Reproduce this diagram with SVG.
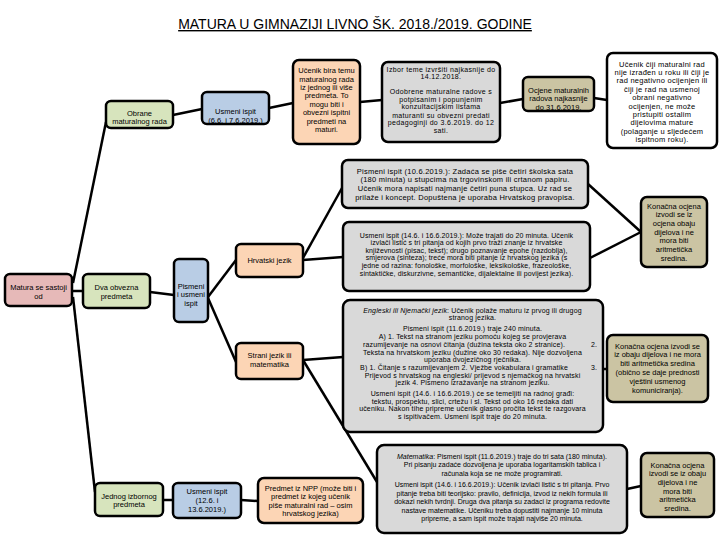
<svg xmlns="http://www.w3.org/2000/svg" width="720" height="540" viewBox="0 0 720 540">
<style>
.b{stroke:#000;stroke-width:2.5}
.pk{fill:#E6B9B8}.gr{fill:#D7E4BD}.bl{fill:#B9CDE5}.or{fill:#FCD5B5}.gy{fill:#D9D9D9}.tn{fill:#CBC4A3}.wh{fill:#FFFFFF}
text{font-family:"Liberation Sans",Arial,sans-serif;fill:#000;text-anchor:middle}
.s{font-size:7.5px}.m{font-size:7px}
.c line{stroke:#000;stroke-width:2.5}
</style>
<rect width="720" height="540" fill="#fff"/>
<text x="355" y="29" style="font-size:14px;text-decoration:underline">MATURA U GIMNAZIJI LIVNO ŠK. 2018./2019. GODINE</text>
<g id="connectors" class="c">
<line x1="72" y1="291" x2="83" y2="291"/>
<line x1="73" y1="283" x2="106" y2="122"/>
<line x1="73" y1="297" x2="95" y2="492"/>
<line x1="150" y1="292" x2="174" y2="295"/>
<line x1="208" y1="297" x2="236" y2="260"/>
<line x1="208" y1="298" x2="236" y2="362"/>
<line x1="303" y1="260" x2="343" y2="257"/>
<line x1="303" y1="258" x2="342" y2="188"/>
<line x1="588" y1="184" x2="641" y2="232"/>
<line x1="590" y1="258" x2="641" y2="232"/>
<line x1="303" y1="360" x2="343" y2="357"/>
<line x1="303" y1="360" x2="377" y2="482"/>
<line x1="602" y1="369" x2="607" y2="369"/>
<line x1="627" y1="489" x2="641" y2="486"/>
<line x1="163" y1="500" x2="173" y2="500"/>
<line x1="241" y1="500" x2="258" y2="501"/>
<line x1="173" y1="115" x2="202" y2="109"/>
<line x1="269" y1="108" x2="293" y2="103"/>
<line x1="360" y1="102" x2="382" y2="100"/>
<line x1="500" y1="103" x2="523" y2="99"/>
<line x1="594" y1="98" x2="607" y2="100"/>
</g>
<g id="matura"><rect class="b pk" x="5" y="274" width="67" height="32" rx="5"/>
<text class="s" x="38.5" y="289.8">Matura se sastoji</text><text class="s" x="38.5" y="298.5">od</text></g>
<g id="dva"><rect class="b gr" x="83" y="274" width="67" height="34" rx="5"/>
<text class="s" x="116.5" y="289.8">Dva obvezna</text><text class="s" x="116.5" y="298.8">predmeta</text></g>
<g id="pismeni"><rect class="b bl" x="174" y="259" width="34" height="63" rx="5"/>
<text class="s" x="191" y="288.5">Pismeni</text><text class="s" x="191" y="297">i usmeni</text><text class="s" x="191" y="305.5">ispit</text></g>
<g id="hrvatski"><rect class="b or" x="236" y="244" width="67" height="33" rx="5"/>
<text class="s" x="269.5" y="263">Hrvatski jezik</text></g>
<g id="strani"><rect class="b or" x="236" y="343" width="67" height="36" rx="5"/>
<text class="s" x="269.5" y="358">Strani jezik ili</text><text class="s" x="269.5" y="367">matematika</text></g>
<g id="obrane"><rect class="b gr" x="106" y="101" width="67" height="27" rx="5"/>
<text class="s" x="139.5" y="115.8">Obrane</text><text class="s" x="139.5" y="124.2">maturalnog rada</text></g>
<g id="usmeni1"><rect class="b bl" x="202" y="92" width="67" height="32" rx="5"/>
<text class="s" x="235.5" y="114.2">Usmeni ispit</text><text class="s" x="235.5" y="123">(6.6. i 7.6.2019.)</text></g>
<g id="ucenik-bira"><rect class="b or" x="293" y="60" width="67" height="84" rx="6"/>
<text class="s" x="326.5" y="73.2">Učenik bira temu</text>
<text class="s" x="326.5" y="81.6">maturalnog rada</text>
<text class="s" x="326.5" y="90">iz jednog ili više</text>
<text class="s" x="326.5" y="98.4">predmeta. To</text>
<text class="s" x="326.5" y="106.8">mogu biti i</text>
<text class="s" x="326.5" y="115.2">obvezni ispitni</text>
<text class="s" x="326.5" y="123.6">predmeti na</text>
<text class="s" x="326.5" y="132">maturi.</text></g>
<g id="izbor" letter-spacing="0.35"><rect class="b gy" x="382" y="62" width="118" height="80" rx="6"/>
<text class="m" x="441" y="71.8">Izbor teme izvršiti najkasnije do</text>
<text class="m" x="441" y="79.2">14.12.2018.</text>
<text class="m" x="441" y="94.2">Odobrene maturalne radove s</text>
<text class="m" x="441" y="101.8">potpisanim i popunjenim</text>
<text class="m" x="441" y="109.2">konzultacijskim listama</text>
<text class="m" x="441" y="117.5">maturanti su obvezni predati</text>
<text class="m" x="441" y="125.2">pedagoginji do 3.6.2019. do 12</text>
<text class="m" x="441" y="132.5">sati.</text></g>
<g id="ocjene"><rect class="b tn" x="523" y="77" width="71" height="34" rx="5"/>
<text class="s" x="558.5" y="92.5">Ocjene maturalnih</text>
<text class="s" x="558.5" y="101">radova najkasnije</text>
<text class="s" x="558.5" y="109.5">do 31.6.2019.</text></g>
<g id="ucenik-ciji" letter-spacing="0.25"><rect class="b wh" x="607" y="53" width="110" height="95" rx="6"/>
<text class="s" x="662" y="66.5">Učenik čiji maturalni rad</text>
<text class="s" x="662" y="74.9">nije izrađen u roku ili čiji je</text>
<text class="s" x="662" y="83.3">rad negativno ocijenjen ili</text>
<text class="s" x="662" y="91.7">čiji je rad na usmenoj</text>
<text class="s" x="662" y="100.1">obrani negativno</text>
<text class="s" x="662" y="108.5">ocijenjen, ne može</text>
<text class="s" x="662" y="116.9">pristupiti ostalim</text>
<text class="s" x="662" y="125.3">dijelovima mature</text>
<text class="s" x="662" y="133.7">(polaganje u sljedećem</text>
<text class="s" x="662" y="142.1">ispitnom roku).</text></g>
<g id="pismeni-hrv" letter-spacing="0.25"><rect class="b gy" x="342" y="160" width="246" height="48" rx="6"/>
<text class="s" x="465" y="173.5">Pismeni ispit (10.6.2019.): Zadaća se piše četiri školska sata</text>
<text class="s" x="465" y="182.2">(180 minuta) u stupcima na trgovinskom ili crtanom papiru.</text>
<text class="s" x="465" y="190.9">Učenik mora napisati najmanje četiri puna stupca. Uz rad se</text>
<text class="s" x="465" y="199.6">prilaže i koncept. Dopuštena je uporaba Hrvatskog pravopisa.</text></g>
<g id="konacna1"><rect class="b tn" x="641" y="197" width="66" height="70" rx="6"/>
<text class="s" x="674" y="208.5">Konačna ocjena</text>
<text class="s" x="674" y="217.2">izvodi se iz</text>
<text class="s" x="674" y="225.9">ocjena obaju</text>
<text class="s" x="674" y="234.6">dijelova i ne</text>
<text class="s" x="674" y="243.3">mora biti</text>
<text class="s" x="674" y="252">aritmetička</text>
<text class="s" x="674" y="260.7">sredina.</text></g>
<g id="usmeni-hrv" letter-spacing="0.1"><rect class="b gy" x="343" y="222" width="247" height="69" rx="6"/>
<text class="m" x="466.5" y="237.5">Usmeni ispit (14.6. i 16.6.2019.): Može trajati do 20 minuta. Učenik</text>
<text class="m" x="466.5" y="245.1">izvlači listić s tri pitanja od kojih prvo traži znanje iz hrvatske</text>
<text class="m" x="466.5" y="252.7">književnosti (pisac, tekst); drugo poznavanje epohe (razdoblja),</text>
<text class="m" x="466.5" y="260.3">smjerova (sinteza); treće mora biti pitanje iz hrvatskog jezika (s</text>
<text class="m" x="466.5" y="267.9">jedne od razina: fonološke, morfološke, leksikološke, frazeološke,</text>
<text class="m" x="466.5" y="275.5">sintaktičke, diskurzivne, semantičke, dijalektalne ili povijest jezika).</text></g>
<g id="engleski" letter-spacing="0.15"><rect class="b gy" x="343" y="300" width="260" height="132" rx="7"/>
<text class="m" x="472.5" y="312.5"><tspan font-style="italic">Engleski ili Njemački jezik</tspan>: Učenik polaže maturu iz prvog ili drugog</text>
<text class="m" x="472.5" y="320.2">stranog jezika.</text>
<text class="m" x="472.5" y="330.8">Pismeni ispit (11.6.2019.) traje 240 minuta.</text>
<text class="m" x="472.5" y="339">A) 1. Tekst na stranom jeziku pomoću kojeg se provjerava</text>
<text class="m" x="464" y="346.5">razumijevanje na osnovi čitanja (dužina teksta oko 2 stranice).</text>
<text class="m" x="594" y="346.5">2.</text>
<text class="m" x="472.5" y="354.5">Teksta na hrvatskom jeziku (dužine oko 30 redaka). Nije dozvoljena</text>
<text class="m" x="472.5" y="362.3">uporaba dvojezičnog rječnika.</text>
<text class="m" x="464" y="370">B) 1. Čitanje s razumijevanjem 2. Vježbe vokabulara i gramatike</text>
<text class="m" x="594" y="370">3.</text>
<text class="m" x="472.5" y="377.5">Prijevod s hrvatskog na engleski/ prijevod s njemačkog na hrvatski</text>
<text class="m" x="472.5" y="385">jezik 4. Pismeno izražavanje na stranom jeziku.</text>
<text class="m" x="472.5" y="396">Usmeni ispit (14.6. i 16.6.2019.) će se temeljiti na radnoj građi:</text>
<text class="m" x="472.5" y="403.5">tekstu, prospektu, slici, crtežu i sl. Tekst od oko 16 redaka dati</text>
<text class="m" x="472.5" y="411">učeniku. Nakon tihe pripreme učenik glasno pročita tekst te razgovara</text>
<text class="m" x="472.5" y="418.5">s ispitivačem.  Usmeni ispit traje do 20 minuta.</text></g>
<g id="konacna2"><rect class="b tn" x="607" y="335" width="101" height="67" rx="6"/>
<text class="s" x="657.5" y="348.5">Konačna ocjena izvodi se</text>
<text class="s" x="657.5" y="357.3">iz obaju dijelova i ne mora</text>
<text class="s" x="657.5" y="366.1">biti aritmetička sredina</text>
<text class="s" x="657.5" y="374.9">(obično se daje prednosti</text>
<text class="s" x="657.5" y="383.7">vještini usmenog</text>
<text class="s" x="657.5" y="392.5">komuniciranja).</text></g>
<g id="matematika"><rect class="b gy" x="377" y="445" width="250" height="88" rx="7"/>
<text class="m" x="502" y="459"><tspan font-style="italic">Matematika</tspan>: Pismeni ispit (11.6.2019.) traje do tri sata (180 minuta).</text>
<text class="m" x="502" y="467.4">Pri pisanju zadaće dozvoljena je uporaba logaritamskih tablica i</text>
<text class="m" x="502" y="475.8">računala koja se ne može programirati.</text>
<text class="m" x="502" y="487.4">Usmeni ispit (14.6. i 16.6.2019.): Učenik izvlači listić s tri pitanja. Prvo</text>
<text class="m" x="502" y="495.8">pitanje treba biti teorijsko: pravilo, definicija, izvod iz nekih formula ili</text>
<text class="m" x="502" y="504.2">dokazi nekih tvrdnji. Druga dva pitanja su zadaci iz programa redovite</text>
<text class="m" x="502" y="512.6">nastave matematike. Učeniku treba dopustiti najmanje 10 minuta</text>
<text class="m" x="502" y="521">pripreme, a sam ispit može trajati najviše 20 minuta.</text></g>
<g id="konacna3"><rect class="b tn" x="641" y="453" width="73" height="64" rx="6"/>
<text class="s" x="677.5" y="467.5">Konačna ocjena</text>
<text class="s" x="677.5" y="476.2">izvodi se iz obaju</text>
<text class="s" x="677.5" y="484.9">dijelova i ne</text>
<text class="s" x="677.5" y="493.6">mora biti</text>
<text class="s" x="677.5" y="502.3">aritmetička</text>
<text class="s" x="677.5" y="511">sredina.</text></g>
<g id="jednog"><rect class="b gr" x="95" y="483" width="68" height="33" rx="5"/>
<text class="s" x="129" y="498.5">Jednog izbornog</text><text class="s" x="129" y="507">predmeta</text></g>
<g id="usmeni3"><rect class="b bl" x="173" y="483" width="68" height="35" rx="5"/>
<text class="s" x="207" y="494">Usmeni ispit</text><text class="s" x="207" y="503">(12.6. i</text><text class="s" x="207" y="512">13.6.2019.)</text></g>
<g id="predmet"><rect class="b or" x="258" y="478" width="105" height="45" rx="6"/>
<text class="s" x="310.5" y="490.8">Predmet iz NPP (može biti i</text>
<text class="s" x="310.5" y="499.2">predmet iz kojeg učenik</text>
<text class="s" x="310.5" y="507.6">piše maturalni rad – osim</text>
<text class="s" x="310.5" y="516">hrvatskog jezika)</text></g>
</svg>
